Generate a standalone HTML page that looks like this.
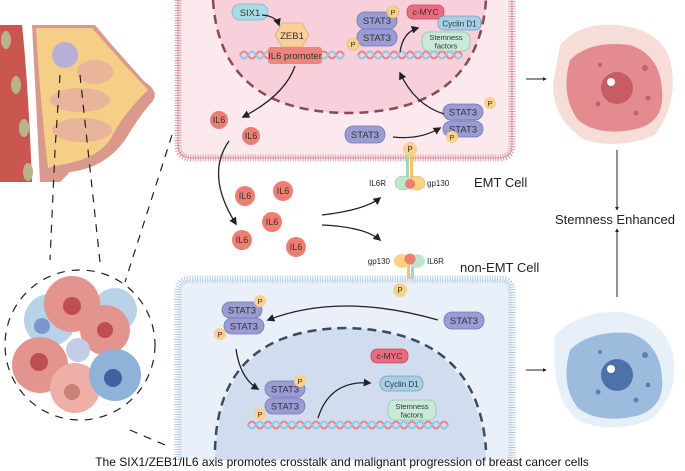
<!DOCTYPE html>
<html><head><meta charset="utf-8"><style>
html,body{margin:0;padding:0;background:#fff;}
svg{display:block;font-family:"Liberation Sans",Arial,sans-serif;}
</style></head><body>
<svg width="685" height="471" viewBox="0 0 685 471" xmlns="http://www.w3.org/2000/svg">
<defs>
<marker id="ah" viewBox="0 0 10 10" refX="8" refY="5" markerWidth="6" markerHeight="6" orient="auto"><path d="M0,0 L10,5 L0,10 z" fill="#222"/></marker>
<marker id="ah2" viewBox="0 0 10 10" refX="8" refY="5" markerWidth="4" markerHeight="4" orient="auto"><path d="M0,0 L10,5 L0,10 z" fill="#222"/></marker>
</defs>

<!-- EMT cell -->
<path d="M178,-5 L178,145 Q178,158 192,158 L498,158 Q512,158 512,145 L512,-5" fill="#fbe9ee" stroke="#e0a1aa" stroke-width="7" stroke-dasharray="1 1.5"/>
<path d="M178,-5 L178,145 Q178,158 192,158 L498,158 Q512,158 512,145 L512,-5" fill="none" stroke="#d98a94" stroke-width="1" transform="translate(0,0)"/>
<path d="M213,0 Q220,112 348,113 Q478,112 486,0 Z" fill="#f7d0db"/>
<path d="M213,0 Q220,112 348,113 Q478,112 486,0" fill="none" stroke="#8a4a55" stroke-width="2.5" stroke-dasharray="9 6"/>

<!-- EMT DNA -->
<g fill="none" stroke-width="2">
<path d="M240,55 q4,-7 8,0 t8,0 t8,0 t8,0 t8,0 t8,0 t8,0 t8,0 t8,0 t8,0 t8,0 t8,0 t8,0" stroke="#ea7f86"/>
<path d="M240,55 q4,7 8,0 t8,0 t8,0 t8,0 t8,0 t8,0 t8,0 t8,0 t8,0 t8,0 t8,0 t8,0 t8,0" stroke="#8cc9e6"/>
<path d="M358,55 q4,-7 8,0 t8,0 t8,0 t8,0 t8,0 t8,0 t8,0 t8,0 t8,0 t8,0 t8,0 t8,0 t8,0" stroke="#ea7f86"/>
<path d="M358,55 q4,7 8,0 t8,0 t8,0 t8,0 t8,0 t8,0 t8,0 t8,0 t8,0 t8,0 t8,0 t8,0 t8,0" stroke="#8cc9e6"/>
</g>
<g font-size="9.5" fill="#333" text-anchor="middle">
<rect x="232" y="4" width="36" height="16" rx="8" fill="#a9dde6" stroke="#7bb9c5" stroke-width="0.8"/>
<text x="250" y="16">SIX1</text>
<polygon points="275,35 282,23 302,23 309,35 302,47 282,47" fill="#f9cf9a" stroke="#e2ab6c" stroke-width="0.8"/>
<text x="292" y="39">ZEB1</text>
<rect x="268" y="47" width="54" height="17" rx="3" fill="#ec857d"/>
<text x="295" y="59">IL6 promoter</text>
<rect x="357" y="12" width="40" height="17" rx="8" fill="#9a9cd3" stroke="#7577b6" stroke-width="0.8"/>
<text x="377" y="24">STAT3</text>
<rect x="357" y="29" width="40" height="17" rx="8" fill="#9a9cd3" stroke="#7577b6" stroke-width="0.8"/>
<text x="377" y="41">STAT3</text>
<rect x="407" y="5" width="37" height="14" rx="6" fill="#ea6b7d" stroke="#c44c5c" stroke-width="0.8"/>
<text x="425.5" y="15" font-size="8.5">c-MYC</text>
<rect x="438" y="16" width="43" height="14" rx="6" fill="#a8cfe6" stroke="#6d9fc0" stroke-width="0.8"/>
<text x="459.5" y="26.5" font-size="8">Cyclin D1</text>
<rect x="422" y="32" width="48" height="19" rx="7" fill="#c9ead7" stroke="#93c6a9" stroke-width="0.8"/>
<text x="446" y="40" font-size="7.5">Stemness</text>
<text x="446" y="48.5" font-size="7.5">factors</text>
<circle cx="393" cy="12" r="6" fill="#fbd08a" stroke="#e0b068" stroke-width="0.6"/><text x="393" y="15" font-size="7.5">P</text>
<circle cx="353" cy="44" r="6" fill="#fbd08a" stroke="#e0b068" stroke-width="0.6"/><text x="353" y="47" font-size="7.5">P</text>
<rect x="443" y="104" width="40" height="16" rx="8" fill="#9a9cd3" stroke="#7577b6" stroke-width="0.8"/>
<text x="463" y="115.5">STAT3</text>
<rect x="443" y="121" width="40" height="16" rx="8" fill="#9a9cd3" stroke="#7577b6" stroke-width="0.8"/>
<text x="463" y="132.5">STAT3</text>
<circle cx="490" cy="103" r="6" fill="#fbd08a"/><text x="490" y="106" font-size="7.5">P</text>
<circle cx="452" cy="137" r="6" fill="#fbd08a"/><text x="452" y="140" font-size="7.5">P</text>
<rect x="345" y="126" width="40" height="17" rx="8" fill="#9a9cd3" stroke="#7577b6" stroke-width="0.8"/>
<text x="365" y="138">STAT3</text>
</g>
<g fill="none" stroke="#222" stroke-width="1.3">
<path d="M262,15 Q276,16 279,25" marker-end="url(#ah)"/>
<path d="M295,66 Q285,95 243,117" marker-end="url(#ah)"/>
<path d="M400,52 Q403,32 418,28" marker-end="url(#ah)"/>
<path d="M444,114 Q415,105 400,73" marker-end="url(#ah)"/>
<path d="M393,137 Q420,140 440,128" marker-end="url(#ah)"/>
<path d="M229,141 Q205,175 236,224" marker-end="url(#ah)"/>
<path d="M322,215 Q365,210 380,198" marker-end="url(#ah)"/>
<path d="M322,225 Q365,227 380,240" marker-end="url(#ah)"/>
</g>

<!-- IL6 particles -->
<g font-size="9" fill="#333" text-anchor="middle">
<g fill="#ee7d72"><circle cx="219" cy="120" r="9"/><circle cx="251" cy="136" r="9"/><circle cx="245" cy="196" r="10"/><circle cx="283" cy="191" r="10"/><circle cx="272" cy="222" r="10"/><circle cx="242" cy="240" r="10"/><circle cx="296" cy="247" r="10"/></g>
<text x="219" y="123">IL6</text><text x="251" y="139">IL6</text><text x="245" y="199">IL6</text><text x="283" y="194">IL6</text><text x="272" y="225">IL6</text><text x="242" y="243">IL6</text><text x="296" y="250">IL6</text>
</g>

<!-- EMT receptor -->
<rect x="406" y="152" width="3" height="30" fill="#a5d6b8"/><rect x="410" y="152" width="3" height="30" fill="#f4c36b"/>
<circle cx="410" cy="149" r="7" fill="#fbd08a"/><text x="410" y="152" font-size="8" text-anchor="middle" fill="#333">P</text>
<ellipse cx="403" cy="183" rx="8" ry="7" fill="#bfe5cc" stroke="#88c9a1" stroke-width="0.6"/>
<ellipse cx="417" cy="183" rx="8" ry="7" fill="#f9d285" stroke="#e1b463" stroke-width="0.6"/>
<circle cx="410" cy="184" r="5" fill="#ee7d72"/>
<text x="386" y="186" font-size="8" text-anchor="end" fill="#222">IL6R</text>
<text x="427" y="186" font-size="8" fill="#222">gp130</text>
<text x="474" y="187" font-size="13" fill="#222">EMT Cell</text>

<!-- non-EMT receptor -->
<rect x="407" y="262" width="3" height="30" fill="#f4c36b"/><rect x="411" y="262" width="3" height="30" fill="#a5d6b8"/>
<ellipse cx="402" cy="261" rx="8" ry="7" fill="#f9d285"/>
<ellipse cx="417" cy="261" rx="8" ry="7" fill="#bfe5cc"/>
<circle cx="410" cy="259" r="5.5" fill="#ee7d72"/>
<text x="390" y="264" font-size="8" text-anchor="end" fill="#222">gp130</text>
<text x="427" y="264" font-size="8" fill="#222">IL6R</text>
<text x="460" y="272" font-size="13" fill="#222">non-EMT Cell</text>

<!-- non-EMT cell -->
<path d="M178,460 L178,292 Q178,279 192,279 L498,279 Q512,279 512,292 L512,460" fill="#e9f0f9" stroke="#b4cbe3" stroke-width="7" stroke-dasharray="1 1.5"/>
<circle cx="400" cy="290" r="7" fill="#fbd08a"/><text x="400" y="293" font-size="8" text-anchor="middle" fill="#333">P</text>
<path d="M215,460 Q218,330 345,328 Q478,330 486,460 Z" fill="#d1ddef"/>
<path d="M215,450 Q218,330 345,328 Q478,330 486,450" fill="none" stroke="#3b4a5e" stroke-width="2.5" stroke-dasharray="9 6"/>
<g fill="none" stroke-width="2">
<path d="M248,425 q4,-7 8,0 t8,0 t8,0 t8,0 t8,0 t8,0 t8,0 t8,0 t8,0 t8,0 t8,0 t8,0 t8,0 t8,0 t8,0 t8,0 t8,0 t8,0 t8,0 t8,0 t8,0 t8,0 t8,0 t8,0 t8,0" stroke="#ea7f86"/>
<path d="M248,425 q4,7 8,0 t8,0 t8,0 t8,0 t8,0 t8,0 t8,0 t8,0 t8,0 t8,0 t8,0 t8,0 t8,0 t8,0 t8,0 t8,0 t8,0 t8,0 t8,0 t8,0 t8,0 t8,0 t8,0 t8,0 t8,0" stroke="#8cc9e6"/>
</g>
<g font-size="9.5" fill="#333" text-anchor="middle">
<rect x="222" y="302" width="40" height="16" rx="8" fill="#9a9cd3" stroke="#7577b6" stroke-width="0.8"/><text x="242" y="313.5">STAT3</text>
<rect x="224" y="318" width="40" height="16" rx="8" fill="#9a9cd3" stroke="#7577b6" stroke-width="0.8"/><text x="244" y="329.5">STAT3</text>
<circle cx="260" cy="301" r="6" fill="#fbd08a"/><text x="260" y="304" font-size="7.5">P</text>
<circle cx="220" cy="334" r="6" fill="#fbd08a"/><text x="220" y="337" font-size="7.5">P</text>
<rect x="444" y="312" width="40" height="17" rx="8" fill="#9a9cd3" stroke="#7577b6" stroke-width="0.8"/><text x="464" y="324">STAT3</text>
<rect x="265" y="381" width="40" height="16" rx="8" fill="#9a9cd3" stroke="#7577b6" stroke-width="0.8"/><text x="285" y="392.5">STAT3</text>
<rect x="265" y="398" width="40" height="16" rx="8" fill="#9a9cd3" stroke="#7577b6" stroke-width="0.8"/><text x="285" y="409.5">STAT3</text>
<circle cx="300" cy="381" r="6" fill="#fbd08a"/><text x="300" y="384" font-size="7.5">P</text>
<circle cx="260" cy="414" r="6" fill="#fbd08a"/><text x="260" y="417" font-size="7.5">P</text>
<rect x="371" y="349" width="37" height="14" rx="6" fill="#ea6b7d" stroke="#c44c5c" stroke-width="0.8"/><text x="389.5" y="359" font-size="8.5">c-MYC</text>
<rect x="380" y="376" width="43" height="15" rx="7" fill="#a8cfe6" stroke="#6d9fc0" stroke-width="0.8"/><text x="401.5" y="387" font-size="8">Cyclin D1</text>
<rect x="388" y="400" width="48" height="20" rx="7" fill="#c9ead7" stroke="#93c6a9" stroke-width="0.8"/><text x="412" y="409" font-size="7.5">Stemness</text><text x="412" y="417.5" font-size="7.5">factors</text>
</g>
<g fill="none" stroke="#222" stroke-width="1.3">
<path d="M438,320 Q340,292 268,320" marker-end="url(#ah)"/>
<path d="M236,349 Q240,378 258,389" marker-end="url(#ah)"/>
<path d="M318,418 Q330,380 370,383" marker-end="url(#ah)"/>
</g>

<!-- right side -->
<g stroke="#222" stroke-width="1" fill="none">
<path d="M526,79 L546,79" marker-end="url(#ah2)"/>
<path d="M526,370 L546,370" marker-end="url(#ah2)"/>
<path d="M617,150 L617,210" marker-end="url(#ah2)"/>
<path d="M617,297 L617,229" marker-end="url(#ah2)"/>
</g>
<text x="615" y="224" font-size="13" text-anchor="middle" fill="#222">Stemness Enhanced</text>
<path d="M560,45 Q580,22 615,25 Q660,28 670,60 Q680,100 655,135 Q620,150 585,140 Q553,120 553,85 Z" fill="#f7ddd8"/>
<path d="M570,60 Q590,40 630,45 Q660,55 662,90 Q665,120 640,128 Q600,138 578,120 Q560,95 570,60 Z" fill="#e38b8f"/>
<circle cx="617" cy="88" r="16" fill="#c75d63"/><circle cx="611" cy="82" r="4" fill="#fff"/>
<g fill="#c56167"><circle cx="600" cy="65" r="2"/><circle cx="645" cy="68" r="3"/><circle cx="648" cy="98" r="2.5"/><circle cx="598" cy="104" r="2.5"/><circle cx="636" cy="113" r="2.5"/></g>
<path d="M555,335 Q580,310 620,312 Q665,318 673,355 Q680,395 650,420 Q610,435 578,420 Q550,400 555,335 Z" fill="#e7eff8"/>
<path d="M570,350 Q590,330 630,333 Q660,343 662,378 Q665,405 640,415 Q600,425 578,408 Q560,385 570,350 Z" fill="#9dbbdc"/>
<circle cx="617" cy="375" r="16" fill="#4d72aa"/><circle cx="611" cy="369" r="4" fill="#fff"/>
<g fill="#5d7fb3"><circle cx="600" cy="352" r="2"/><circle cx="645" cy="355" r="3"/><circle cx="648" cy="385" r="2.5"/><circle cx="598" cy="392" r="2.5"/><circle cx="636" cy="400" r="2.5"/></g>

<!-- breast -->
<path d="M0,25 L22,25 Q28,80 32,182 L0,182 Z" fill="#c9564f"/>
<g fill="#b9b28a"><ellipse cx="6" cy="40" rx="5" ry="9"/><ellipse cx="16" cy="85" rx="5" ry="9"/><ellipse cx="24" cy="128" rx="5" ry="9"/><ellipse cx="28" cy="172" rx="5" ry="9"/></g>
<path d="M32,25 L95,25 Q120,55 145,82 Q160,92 152,102 Q140,115 125,140 Q105,168 70,172 L60,182 L40,182 Q36,100 32,25 Z" fill="#d99a8d"/>
<path d="M36,28 L92,28 Q118,58 148,90 Q122,115 110,140 Q95,160 60,165 L48,168 Q40,100 36,28 Z" fill="#f5cf87"/>
<g fill="#e8b49a"><ellipse cx="80" cy="100" rx="30" ry="12"/><ellipse cx="82" cy="130" rx="30" ry="12"/><ellipse cx="95" cy="72" rx="18" ry="12"/></g>
<circle cx="65" cy="55" r="13" fill="#b9b0d8"/>
<g stroke="#222" stroke-width="1.2" fill="none" stroke-dasharray="8 7">
<path d="M60,75 L55,150 L50,260"/>
<path d="M80,75 L88,150 L100,262"/>
<path d="M172,135 L125,282"/>
<path d="M130,430 L165,445"/>
<circle cx="80" cy="345" r="75"/>
</g>
<!-- tumor cluster -->
<g>
<circle cx="50" cy="320" r="26" fill="#b8d2e8"/><circle cx="115" cy="310" r="22" fill="#b8d2e8"/>
<circle cx="72" cy="304" r="28" fill="#e4948f"/><circle cx="105" cy="330" r="25" fill="#e4948f"/>
<circle cx="40" cy="365" r="28" fill="#e4948f"/><circle cx="75" cy="388" r="25" fill="#eeb0a6"/>
<circle cx="115" cy="375" r="26" fill="#8fb2d8"/><circle cx="78" cy="350" r="12" fill="#c3cde6"/>
<circle cx="72" cy="306" r="9" fill="#bf4d52"/><circle cx="105" cy="330" r="8" fill="#bf4d52"/><circle cx="39" cy="362" r="9" fill="#bf4d52"/><circle cx="72" cy="392" r="8" fill="#c98079"/><circle cx="113" cy="378" r="9" fill="#3f63a0"/><circle cx="42" cy="326" r="8" fill="#7c97cc"/>
</g>

<text x="342" y="466" font-size="12" text-anchor="middle" fill="#111">The SIX1/ZEB1/IL6 axis promotes crosstalk and malignant progression of breast cancer cells</text>
</svg>
</body></html>
